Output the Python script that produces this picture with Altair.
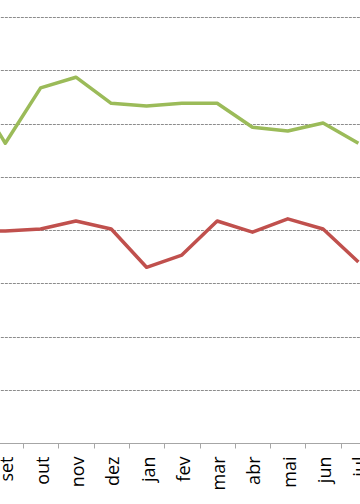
import altair as alt
import pandas as pd

months = ["ago", "set", "out", "nov", "dez", "jan", "fev", "mar", "abr", "mai", "jun", "jul"]
green_vals = [67.2, 56.3, 66.7, 68.7, 63.8, 63.3, 63.8, 63.8, 59.3, 58.6, 60.1, 56.3]
red_vals = [39.8, 39.8, 40.2, 41.7, 40.2, 33.0, 35.3, 41.7, 39.6, 42.1, 40.2, 34.0]
series_names = ["Série A", "Série B"]
series_colors = ["#9BBB59", "#C0504D"]
grid_values = [10, 20, 30, 40, 50, 60, 70, 80]

rows = []
for m, g, r in zip(months, green_vals, red_vals):
    rows.append({"mes": m, "valor": g, "serie": series_names[0]})
    rows.append({"mes": m, "valor": r, "serie": series_names[1]})
df = pd.DataFrame(rows)

x_enc = alt.X(
    "mes:N",
    sort=months,
    scale=alt.Scale(type="band", domain=months, range=[-47.65, 376.05],
                    paddingInner=0, paddingOuter=0),
    axis=alt.Axis(
        title=None, tickBand="extent", labelAngle=270, tickSize=5,
        domainColor="#a6a6a6", tickColor="#a6a6a6", domainWidth=1, tickWidth=1,
        labelFont="Open Sans", labelFontSize=18, labelColor="#000000",
        labelPadding=8, labelOffset=2.5, labelOverlap=False, grid=False,
    ),
)
y_enc = alt.Y(
    "valor:Q",
    scale=alt.Scale(domain=[0, 83.2], nice=False, zero=True),
    axis=alt.Axis(
        title=None, values=grid_values, grid=True, gridDash=[3, 1],
        gridColor="#8c8c8c", gridWidth=1, domain=False, ticks=False, labels=False,
    ),
)

chart = (
    alt.Chart(df)
    .mark_line(clip=True, strokeWidth=3.5, strokeJoin="round")
    .encode(
        x=x_enc,
        y=y_enc,
        color=alt.Color("serie:N", scale=alt.Scale(domain=series_names, range=series_colors), legend=None),
        detail="serie:N",
    )
    .properties(width=360, height=443, autosize="none",
                padding={"left": 0, "top": 0, "right": 0, "bottom": 61})
    .configure_view(stroke=None)
)

chart.save("out.html", embed_options={"renderer": "svg", "actions": False})
